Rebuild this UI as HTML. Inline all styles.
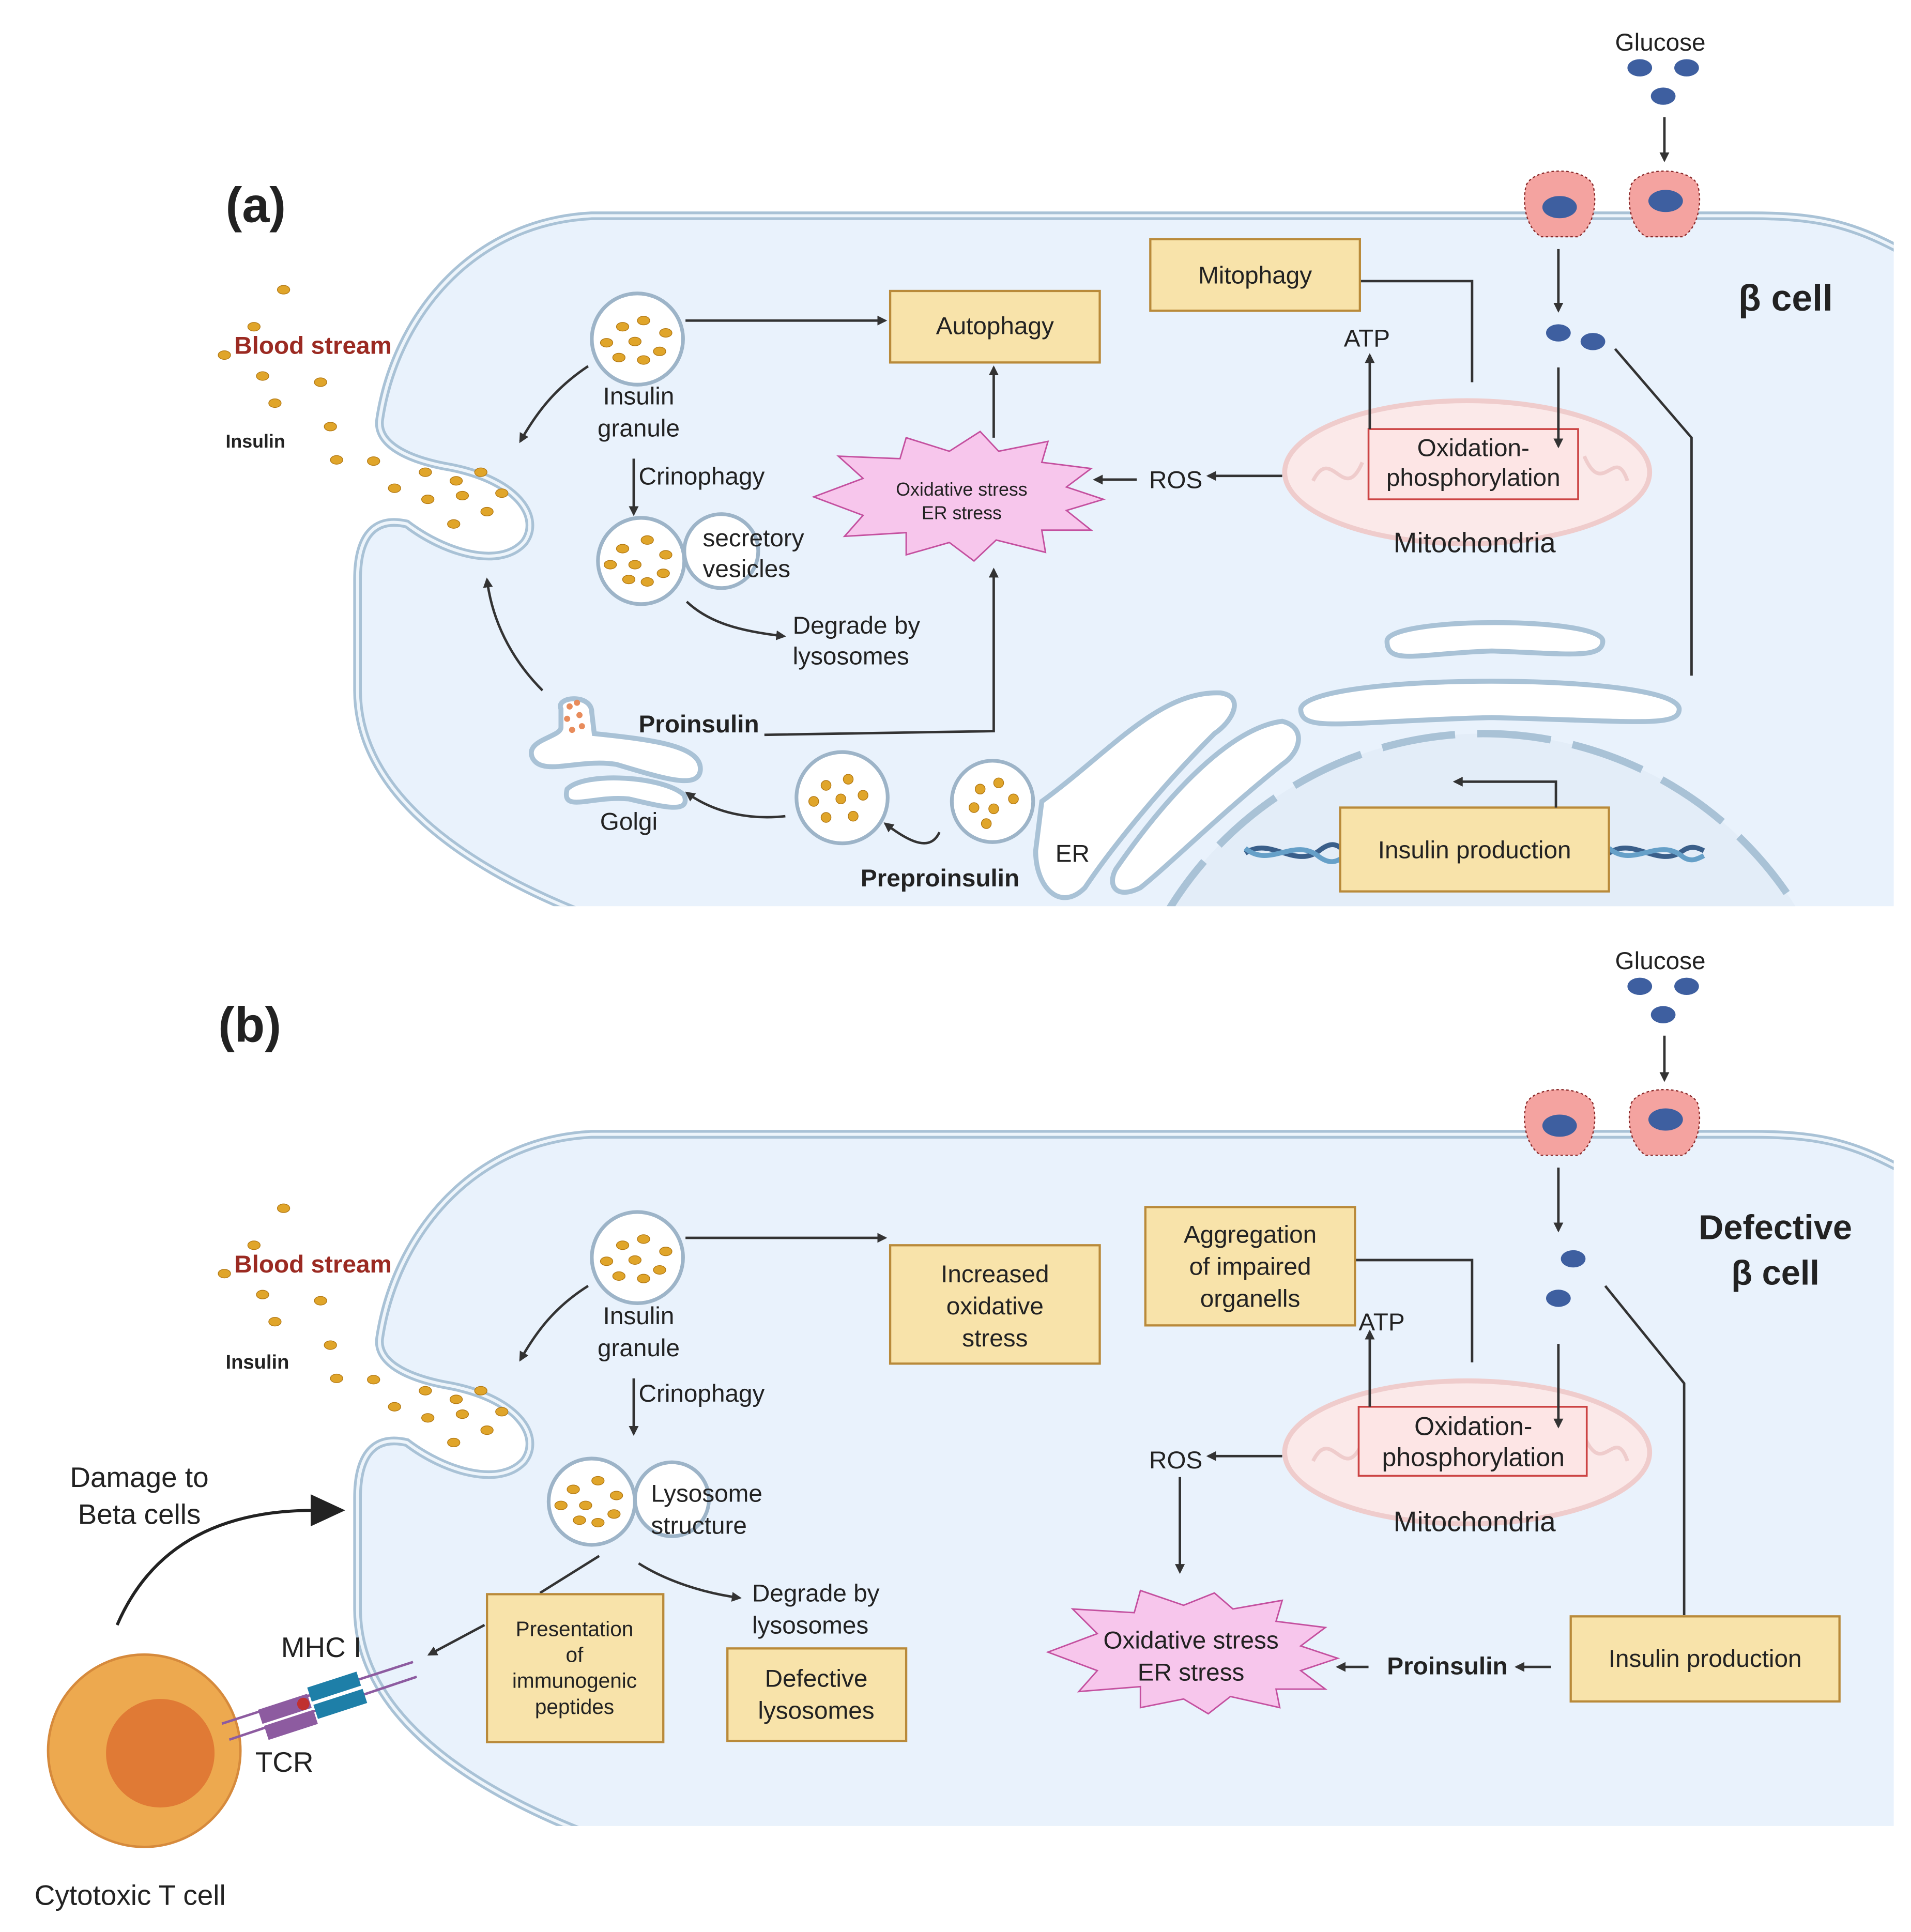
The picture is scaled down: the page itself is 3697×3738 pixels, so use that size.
<!DOCTYPE html>
<html><head><meta charset="utf-8"><style>
html,body{margin:0;padding:0;background:#fff}
svg{display:block}
text{font-family:"Liberation Sans",sans-serif;fill:#222}
</style></head><body>
<svg width="3697" height="3738" viewBox="0 0 1550 1567" preserveAspectRatio="none" xmlns="http://www.w3.org/2000/svg">
<defs>
<marker id="ar" viewBox="0 0 10 10" refX="8" refY="5" markerWidth="4" markerHeight="4" orient="auto"><path d="M0,0L10,5L0,10z" fill="#333"/></marker>
<clipPath id="ca"><rect x="0" y="0" width="1536" height="735"/></clipPath>
<clipPath id="cb"><rect x="0" y="745" width="1536" height="736"/></clipPath>
</defs>
<style>
.cell{fill:#e9f2fc;stroke:#a9c2d6;stroke-width:7}
.cell2{fill:none;stroke:#eef5fb;stroke-width:2.5}
.ln{fill:none;stroke:#333;stroke-width:2}
.box{fill:#f8e3aa;stroke:#b98a3a;stroke-width:1.8}
.ves{fill:#fff;stroke:#9db4c8;stroke-width:3}
.dot{fill:#e0a52a;stroke:#b47a15;stroke-width:.6}
.org{fill:#fff;stroke:#a9c2d6;stroke-width:4}
.t20{font-size:20px}
.b{font-weight:bold}
</style>

<!-- ================= PANEL A ================= -->
<g clip-path="url(#ca)">
<path class="cell" d="M1545,205 C1500,180 1470,175 1420,175 L480,175 C380,180 320,260 308,340 C305,360 330,372 360,378 C420,388 440,420 425,440 C405,462 360,448 330,425 C300,418 290,440 290,470 L290,560 C290,640 370,700 470,740 L1545,740 Z"/>
<path class="cell2" d="M1545,205 C1500,180 1470,175 1420,175 L480,175 C380,180 320,260 308,340 C305,360 330,372 360,378 C420,388 440,420 425,440 C405,462 360,448 330,425 C300,418 290,440 290,470 L290,560 C290,640 370,700 470,740"/>
<circle cx="1203" cy="894" r="299" fill="#e3edf8" stroke="#a9c2d6" stroke-width="6" stroke-dasharray="60 18"/>
<path class="org" d="M1125,520 C1125,500 1300,500 1300,520 C1300,535 1270,530 1210,528 C1150,530 1125,540 1125,520Z"/>
<path class="org" d="M1055,575 C1060,545 1360,545 1362,575 C1362,590 1330,585 1210,582 C1090,585 1055,595 1055,575Z"/>
<path class="org" d="M845,650 C900,610 940,560 990,562 C1010,565 1000,585 985,595 C940,640 900,690 880,720 C860,740 840,720 840,690 Z"/>
<path class="org" d="M905,705 C950,640 1000,590 1040,585 C1060,590 1055,610 1040,620 C990,660 950,700 925,720 C905,730 898,718 905,705Z"/>
<path d="M1010,692 C1030,678 1050,705 1070,690 C1080,682 1085,685 1090,690" stroke="#3a5f8a" stroke-width="4" fill="none"/>
<path d="M1010,688 C1030,705 1050,678 1070,695 C1080,702 1085,698 1090,695" stroke="#66a0c8" stroke-width="4" fill="none"/>
<path d="M1305,692 C1325,678 1345,705 1365,690 C1372,685 1378,688 1382,690" stroke="#3a5f8a" stroke-width="4" fill="none"/>
<path d="M1305,688 C1325,705 1345,678 1365,695 C1372,700 1378,696 1382,694" stroke="#66a0c8" stroke-width="4" fill="none"/>
</g>
<g>
<ellipse class="dot" cx="345" cy="383" rx="5" ry="3.5"/><ellipse class="dot" cx="370" cy="390" rx="5" ry="3.5"/><ellipse class="dot" cx="390" cy="383" rx="5" ry="3.5"/><ellipse class="dot" cx="320" cy="396" rx="5" ry="3.5"/><ellipse class="dot" cx="347" cy="405" rx="5" ry="3.5"/><ellipse class="dot" cx="375" cy="402" rx="5" ry="3.5"/><ellipse class="dot" cx="407" cy="400" rx="5" ry="3.5"/><ellipse class="dot" cx="395" cy="415" rx="5" ry="3.5"/><ellipse class="dot" cx="368" cy="425" rx="5" ry="3.5"/><ellipse class="dot" cx="303" cy="374" rx="5" ry="3.5"/><ellipse class="dot" cx="273" cy="373" rx="5" ry="3.5"/><ellipse class="dot" cx="268" cy="346" rx="5" ry="3.5"/><ellipse class="dot" cx="223" cy="327" rx="5" ry="3.5"/><ellipse class="dot" cx="213" cy="305" rx="5" ry="3.5"/><ellipse class="dot" cx="260" cy="310" rx="5" ry="3.5"/><ellipse class="dot" cx="182" cy="288" rx="5" ry="3.5"/><ellipse class="dot" cx="206" cy="265" rx="5" ry="3.5"/><ellipse class="dot" cx="230" cy="235" rx="5" ry="3.5"/>
</g>
<text x="190" y="287" class="t20 b" style="fill:#9b2a22">Blood stream</text>
<text x="183" y="363" style="font-size:15px;font-weight:bold">Insulin</text>
<text x="183" y="180" style="font-size:40px;font-weight:bold">(a)</text>
<text x="1410" y="252" style="font-size:30px;font-weight:bold">β cell</text>

<text x="1310" y="41" class="t20">Glucose</text>
<ellipse cx="1330" cy="55" rx="10" ry="7" fill="#3e5fa0"/><ellipse cx="1368" cy="55" rx="10" ry="7" fill="#3e5fa0"/><ellipse cx="1349" cy="78" rx="10" ry="7" fill="#3e5fa0"/>
<line class="ln" x1="1350" y1="95" x2="1350" y2="130" marker-end="url(#ar)"/>
<g>
<path d="M1238,150 C1245,135 1285,135 1292,150 C1296,165 1292,185 1280,192 L1250,192 C1238,185 1234,165 1238,150Z" fill="#f4a3a0" stroke="#8a2a2a" stroke-dasharray="2 2"/>
<ellipse cx="1265" cy="168" rx="14" ry="9" fill="#3e5fa0"/>
<path d="M1323,150 C1330,135 1370,135 1377,150 C1381,165 1377,185 1365,192 L1335,192 C1323,185 1319,165 1323,150Z" fill="#f4a3a0" stroke="#8a2a2a" stroke-dasharray="2 2"/>
<ellipse cx="1351" cy="163" rx="14" ry="9" fill="#3e5fa0"/>
</g>
<line class="ln" x1="1264" y1="202" x2="1264" y2="252" marker-end="url(#ar)"/>
<ellipse cx="1264" cy="270" rx="10" ry="7" fill="#3e5fa0"/><ellipse cx="1292" cy="277" rx="10" ry="7" fill="#3e5fa0"/>
<path class="ln" d="M1310,283 L1372,355 L1372,548"/>
<ellipse cx="1190" cy="383" rx="148" ry="58" fill="#fbe9e9" stroke="#efcccc" stroke-width="4"/>
<path d="M1065,390 C1080,360 1090,410 1105,375 M1285,370 C1300,405 1310,360 1320,390" stroke="#efcccc" stroke-width="3" fill="none"/>
<rect x="1110" y="348" width="170" height="57" fill="#fde5e5" stroke="#c44" stroke-width="1.5"/>
<line class="ln" x1="1264" y1="298" x2="1264" y2="362" marker-end="url(#ar)"/>
<text x="1195" y="370" class="t20" text-anchor="middle">Oxidation-</text>
<text x="1195" y="394" class="t20" text-anchor="middle">phosphorylation</text>
<text x="1196" y="448" style="font-size:23px" text-anchor="middle">Mitochondria</text>
<line class="ln" x1="1111" y1="348" x2="1111" y2="288" marker-end="url(#ar)"/>
<text x="1090" y="281" class="t20">ATP</text>
<path class="ln" d="M1103,228 L1194,228 L1194,310"/>
<rect class="box" x="933" y="194" width="170" height="58"/>
<text x="1018" y="230" class="t20" text-anchor="middle">Mitophagy</text>
<line class="ln" x1="1040" y1="386" x2="980" y2="386" marker-end="url(#ar)"/>
<text x="932" y="396" class="t20">ROS</text>
<line class="ln" x1="922" y1="389" x2="888" y2="389" marker-end="url(#ar)"/>
<polygon points="660,403 700,388 680,370 730,372 735,355 770,366 795,350 810,366 850,358 845,375 885,380 865,395 895,405 865,414 885,430 845,430 848,448 808,438 790,455 770,440 735,450 735,432 685,435 700,418" fill="#f7c6ec" stroke="#c4509f" stroke-width="1.2"/>
<text x="780" y="402" style="font-size:15px" text-anchor="middle">Oxidative stress</text>
<text x="780" y="421" style="font-size:15px" text-anchor="middle">ER stress</text>
<line class="ln" x1="806" y1="355" x2="806" y2="298" marker-end="url(#ar)"/>
<rect class="box" x="722" y="236" width="170" height="58"/>
<text x="807" y="271" class="t20" text-anchor="middle">Autophagy</text>
<circle class="ves" cx="517" cy="275" r="37"/>
<g><ellipse class="dot" cx="505" cy="265" rx="5" ry="3.5"/><ellipse class="dot" cx="522" cy="260" rx="5" ry="3.5"/><ellipse class="dot" cx="540" cy="270" rx="5" ry="3.5"/><ellipse class="dot" cx="492" cy="278" rx="5" ry="3.5"/><ellipse class="dot" cx="515" cy="277" rx="5" ry="3.5"/><ellipse class="dot" cx="535" cy="285" rx="5" ry="3.5"/><ellipse class="dot" cx="502" cy="290" rx="5" ry="3.5"/><ellipse class="dot" cx="522" cy="292" rx="5" ry="3.5"/></g>
<line class="ln" x1="556" y1="260" x2="718" y2="260" marker-end="url(#ar)"/>
<text x="518" y="328" class="t20" text-anchor="middle">Insulin</text>
<text x="518" y="354" class="t20" text-anchor="middle">granule</text>
<path class="ln" d="M477,297 C450,315 435,335 422,358" marker-end="url(#ar)"/>
<line class="ln" x1="514" y1="372" x2="514" y2="417" marker-end="url(#ar)"/>
<text x="518" y="393" class="t20">Crinophagy</text>
<circle class="ves" cx="520" cy="455" r="35"/>
<circle class="ves" cx="585" cy="447" r="30"/>
<g><ellipse class="dot" cx="505" cy="445" rx="5" ry="3.5"/><ellipse class="dot" cx="525" cy="438" rx="5" ry="3.5"/><ellipse class="dot" cx="540" cy="450" rx="5" ry="3.5"/><ellipse class="dot" cx="495" cy="458" rx="5" ry="3.5"/><ellipse class="dot" cx="515" cy="458" rx="5" ry="3.5"/><ellipse class="dot" cx="538" cy="465" rx="5" ry="3.5"/><ellipse class="dot" cx="510" cy="470" rx="5" ry="3.5"/><ellipse class="dot" cx="525" cy="472" rx="5" ry="3.5"/></g>
<text x="570" y="443" class="t20">secretory</text>
<text x="570" y="468" class="t20">vesicles</text>
<path class="ln" d="M557,488 C575,505 600,512 636,516" marker-end="url(#ar)"/>
<text x="643" y="514" class="t20">Degrade by</text>
<text x="643" y="539" class="t20">lysosomes</text>
<path class="org" d="M455,575 C450,565 480,562 480,578 L482,595 C530,600 570,605 568,625 C566,640 540,632 500,620 C470,615 440,630 432,615 C425,600 455,598 455,590Z"/>
<path class="org" d="M460,640 C475,625 540,630 555,645 C560,660 540,655 510,648 C480,645 455,660 460,640Z"/>
<g fill="#e88c5c"><circle cx="462" cy="573" r="2.5"/><circle cx="470" cy="580" r="2.5"/><circle cx="460" cy="583" r="2.5"/><circle cx="472" cy="589" r="2.5"/><circle cx="464" cy="592" r="2.5"/><circle cx="468" cy="570" r="2.5"/></g>
<text x="510" y="673" class="t20" text-anchor="middle">Golgi</text>
<text x="518" y="594" class="t20 b">Proinsulin</text>
<path class="ln" d="M620,596 L806,593 L806,462" marker-end="url(#ar)"/>
<path class="ln" d="M440,560 C420,540 400,510 395,470" marker-end="url(#ar)"/>
<circle class="ves" cx="683" cy="647" r="37"/>
<g><ellipse class="dot" cx="670" cy="637" rx="4" ry="4"/><ellipse class="dot" cx="688" cy="632" rx="4" ry="4"/><ellipse class="dot" cx="700" cy="645" rx="4" ry="4"/><ellipse class="dot" cx="660" cy="650" rx="4" ry="4"/><ellipse class="dot" cx="682" cy="648" rx="4" ry="4"/><ellipse class="dot" cx="670" cy="663" rx="4" ry="4"/><ellipse class="dot" cx="692" cy="662" rx="4" ry="4"/></g>
<path class="ln" d="M637,662 C610,665 580,660 557,643" marker-end="url(#ar)"/>
<circle class="ves" cx="805" cy="650" r="33"/>
<g><ellipse class="dot" cx="795" cy="640" rx="4" ry="4"/><ellipse class="dot" cx="810" cy="635" rx="4" ry="4"/><ellipse class="dot" cx="822" cy="648" rx="4" ry="4"/><ellipse class="dot" cx="790" cy="655" rx="4" ry="4"/><ellipse class="dot" cx="806" cy="656" rx="4" ry="4"/><ellipse class="dot" cx="800" cy="668" rx="4" ry="4"/></g>
<path class="ln" d="M762,675 C755,690 740,685 718,668" marker-end="url(#ar)"/>
<text x="698" y="719" class="t20 b">Preproinsulin</text>
<text x="856" y="699" class="t20">ER</text>
<rect class="box" x="1087" y="655" width="218" height="68"/>
<text x="1196" y="696" class="t20" text-anchor="middle">Insulin production</text>
<path class="ln" d="M1262,655 L1262,634 L1180,634" marker-end="url(#ar)"/>

<!-- ================= PANEL B ================= -->
<g clip-path="url(#cb)">
<path class="cell" transform="translate(0,745)" d="M1545,205 C1500,180 1470,175 1420,175 L480,175 C380,180 320,260 308,340 C305,360 330,372 360,378 C420,388 440,420 425,440 C405,462 360,448 330,425 C300,418 290,440 290,470 L290,560 C290,640 370,700 470,740 L1545,740 Z"/>
<path class="cell2" transform="translate(0,745)" d="M1545,205 C1500,180 1470,175 1420,175 L480,175 C380,180 320,260 308,340 C305,360 330,372 360,378 C420,388 440,420 425,440 C405,462 360,448 330,425 C300,418 290,440 290,470 L290,560 C290,640 370,700 470,740"/>
</g>
<g transform="translate(0,745)">
<ellipse class="dot" cx="345" cy="383" rx="5" ry="3.5"/><ellipse class="dot" cx="370" cy="390" rx="5" ry="3.5"/><ellipse class="dot" cx="390" cy="383" rx="5" ry="3.5"/><ellipse class="dot" cx="320" cy="396" rx="5" ry="3.5"/><ellipse class="dot" cx="347" cy="405" rx="5" ry="3.5"/><ellipse class="dot" cx="375" cy="402" rx="5" ry="3.5"/><ellipse class="dot" cx="407" cy="400" rx="5" ry="3.5"/><ellipse class="dot" cx="395" cy="415" rx="5" ry="3.5"/><ellipse class="dot" cx="368" cy="425" rx="5" ry="3.5"/><ellipse class="dot" cx="303" cy="374" rx="5" ry="3.5"/><ellipse class="dot" cx="273" cy="373" rx="5" ry="3.5"/><ellipse class="dot" cx="268" cy="346" rx="5" ry="3.5"/><ellipse class="dot" cx="223" cy="327" rx="5" ry="3.5"/><ellipse class="dot" cx="213" cy="305" rx="5" ry="3.5"/><ellipse class="dot" cx="260" cy="310" rx="5" ry="3.5"/><ellipse class="dot" cx="182" cy="288" rx="5" ry="3.5"/><ellipse class="dot" cx="206" cy="265" rx="5" ry="3.5"/><ellipse class="dot" cx="230" cy="235" rx="5" ry="3.5"/>
</g>
<text x="190" y="1032" class="t20 b" style="fill:#9b2a22">Blood stream</text>
<text x="183" y="1110" style="font-size:16px;font-weight:bold">Insulin</text>
<text x="177" y="845" style="font-size:40px;font-weight:bold">(b)</text>
<text x="1440" y="1005" style="font-size:28px;font-weight:bold" text-anchor="middle">Defective</text>
<text x="1440" y="1042" style="font-size:28px;font-weight:bold" text-anchor="middle">β cell</text>
<text x="1310" y="786" class="t20">Glucose</text>
<ellipse cx="1330" cy="800" rx="10" ry="7" fill="#3e5fa0"/><ellipse cx="1368" cy="800" rx="10" ry="7" fill="#3e5fa0"/><ellipse cx="1349" cy="823" rx="10" ry="7" fill="#3e5fa0"/>
<line class="ln" x1="1350" y1="840" x2="1350" y2="876" marker-end="url(#ar)"/>
<g transform="translate(0,745)">
<path d="M1238,150 C1245,135 1285,135 1292,150 C1296,165 1292,185 1280,192 L1250,192 C1238,185 1234,165 1238,150Z" fill="#f4a3a0" stroke="#8a2a2a" stroke-dasharray="2 2"/>
<ellipse cx="1265" cy="168" rx="14" ry="9" fill="#3e5fa0"/>
<path d="M1323,150 C1330,135 1370,135 1377,150 C1381,165 1377,185 1365,192 L1335,192 C1323,185 1319,165 1323,150Z" fill="#f4a3a0" stroke="#8a2a2a" stroke-dasharray="2 2"/>
<ellipse cx="1351" cy="163" rx="14" ry="9" fill="#3e5fa0"/>
</g>
<line class="ln" x1="1264" y1="947" x2="1264" y2="998" marker-end="url(#ar)"/>
<ellipse cx="1276" cy="1021" rx="10" ry="7" fill="#3e5fa0"/><ellipse cx="1264" cy="1053" rx="10" ry="7" fill="#3e5fa0"/>
<path class="ln" d="M1302,1043 L1366,1122 L1366,1310"/>
<ellipse cx="1190" cy="1178" rx="148" ry="58" fill="#fbe9e9" stroke="#efcccc" stroke-width="4"/>
<path d="M1065,1185 C1080,1155 1090,1205 1105,1170 M1285,1165 C1300,1200 1310,1155 1320,1185" stroke="#efcccc" stroke-width="3" fill="none"/>
<rect x="1102" y="1141" width="185" height="56" fill="#fde5e5" stroke="#c44" stroke-width="1.5"/>
<line class="ln" x1="1264" y1="1090" x2="1264" y2="1157" marker-end="url(#ar)"/>
<text x="1195" y="1164" style="font-size:21px" text-anchor="middle">Oxidation-</text>
<text x="1195" y="1189" style="font-size:21px" text-anchor="middle">phosphorylation</text>
<text x="1196" y="1242" style="font-size:23px" text-anchor="middle">Mitochondria</text>
<line class="ln" x1="1111" y1="1141" x2="1111" y2="1080" marker-end="url(#ar)"/>
<text x="1102" y="1079" class="t20">ATP</text>
<path class="ln" d="M1099,1022 L1194,1022 L1194,1105"/>
<rect class="box" x="929" y="979" width="170" height="96"/>
<text x="1014" y="1008" class="t20" text-anchor="middle">Aggregation</text>
<text x="1014" y="1034" class="t20" text-anchor="middle">of  impaired</text>
<text x="1014" y="1060" class="t20" text-anchor="middle">organells</text>
<line class="ln" x1="1040" y1="1181" x2="980" y2="1181" marker-end="url(#ar)"/>
<text x="932" y="1191" class="t20">ROS</text>
<line class="ln" x1="957" y1="1198" x2="957" y2="1275" marker-end="url(#ar)"/>
<polygon points="850,1340 890,1325 870,1305 920,1308 925,1290 960,1302 985,1292 1000,1305 1040,1298 1035,1315 1075,1320 1055,1335 1085,1345 1055,1355 1075,1370 1035,1370 1038,1385 998,1376 980,1390 960,1378 925,1385 925,1368 875,1372 890,1355" fill="#f7c6ec" stroke="#c4509f" stroke-width="1.2"/>
<text x="966" y="1337" class="t20" text-anchor="middle">Oxidative stress</text>
<text x="966" y="1363" class="t20" text-anchor="middle">ER stress</text>
<line class="ln" x1="1110" y1="1352" x2="1085" y2="1352" marker-end="url(#ar)"/>
<text x="1125" y="1358" class="t20 b">Proinsulin</text>
<line class="ln" x1="1258" y1="1352" x2="1230" y2="1352" marker-end="url(#ar)"/>
<rect class="box" x="1274" y="1311" width="218" height="69"/>
<text x="1383" y="1352" class="t20" text-anchor="middle">Insulin production</text>
<rect class="box" x="722" y="1010" width="170" height="96"/>
<text x="807" y="1040" class="t20" text-anchor="middle">Increased</text>
<text x="807" y="1066" class="t20" text-anchor="middle">oxidative</text>
<text x="807" y="1092" class="t20" text-anchor="middle">stress</text>
<circle class="ves" cx="517" cy="1020" r="37"/>
<g transform="translate(0,745)"><ellipse class="dot" cx="505" cy="265" rx="5" ry="3.5"/><ellipse class="dot" cx="522" cy="260" rx="5" ry="3.5"/><ellipse class="dot" cx="540" cy="270" rx="5" ry="3.5"/><ellipse class="dot" cx="492" cy="278" rx="5" ry="3.5"/><ellipse class="dot" cx="515" cy="277" rx="5" ry="3.5"/><ellipse class="dot" cx="535" cy="285" rx="5" ry="3.5"/><ellipse class="dot" cx="502" cy="290" rx="5" ry="3.5"/><ellipse class="dot" cx="522" cy="292" rx="5" ry="3.5"/></g>
<line class="ln" x1="556" y1="1004" x2="718" y2="1004" marker-end="url(#ar)"/>
<text x="518" y="1074" class="t20" text-anchor="middle">Insulin</text>
<text x="518" y="1100" class="t20" text-anchor="middle">granule</text>
<path class="ln" d="M477,1043 C450,1060 435,1080 422,1103" marker-end="url(#ar)"/>
<line class="ln" x1="514" y1="1118" x2="514" y2="1163" marker-end="url(#ar)"/>
<text x="518" y="1137" class="t20">Crinophagy</text>
<circle class="ves" cx="480" cy="1218" r="35"/>
<circle class="ves" cx="545" cy="1216" r="30"/>
<g transform="translate(-40,763)"><ellipse class="dot" cx="505" cy="445" rx="5" ry="3.5"/><ellipse class="dot" cx="525" cy="438" rx="5" ry="3.5"/><ellipse class="dot" cx="540" cy="450" rx="5" ry="3.5"/><ellipse class="dot" cx="495" cy="458" rx="5" ry="3.5"/><ellipse class="dot" cx="515" cy="458" rx="5" ry="3.5"/><ellipse class="dot" cx="538" cy="465" rx="5" ry="3.5"/><ellipse class="dot" cx="510" cy="470" rx="5" ry="3.5"/><ellipse class="dot" cx="525" cy="472" rx="5" ry="3.5"/></g>
<text x="528" y="1218" class="t20">Lysosome</text>
<text x="528" y="1244" class="t20">structure</text>
<path class="ln" d="M518,1268 C540,1282 570,1292 600,1296" marker-end="url(#ar)"/>
<text x="610" y="1299" class="t20">Degrade by</text>
<text x="610" y="1325" class="t20">lysosomes</text>
<rect class="box" x="590" y="1337" width="145" height="75"/>
<text x="662" y="1368" class="t20" text-anchor="middle">Defective</text>
<text x="662" y="1394" class="t20" text-anchor="middle">lysosomes</text>
<path class="ln" d="M486,1262 L438,1292"/>
<rect class="box" x="395" y="1293" width="143" height="120"/>
<text x="466" y="1327" style="font-size:17px" text-anchor="middle">Presentation</text>
<text x="466" y="1348" style="font-size:17px" text-anchor="middle">of</text>
<text x="466" y="1369" style="font-size:17px" text-anchor="middle">immunogenic</text>
<text x="466" y="1390" style="font-size:17px" text-anchor="middle">peptides</text>
<line class="ln" x1="393" y1="1318" x2="348" y2="1342" marker-end="url(#ar)"/>
<circle cx="117" cy="1420" r="78" fill="#eda94f" stroke="#d68a3c" stroke-width="2"/>
<circle cx="130" cy="1422" r="44" fill="#e07a35"/>
<g>
<line x1="180" y1="1398" x2="335" y2="1348" stroke="#8d5ba0" stroke-width="2"/>
<line x1="186" y1="1411" x2="338" y2="1360" stroke="#8d5ba0" stroke-width="2"/>
<rect x="210" y="1380" width="42" height="12" fill="#8d5ba0" transform="rotate(-18 231 1386)"/>
<rect x="215" y="1393" width="42" height="12" fill="#8d5ba0" transform="rotate(-18 236 1399)"/>
<rect x="250" y="1362" width="42" height="12" fill="#1e7fa8" transform="rotate(-18 271 1368)"/>
<rect x="255" y="1376" width="42" height="12" fill="#1e7fa8" transform="rotate(-18 276 1382)"/>
<circle cx="246" cy="1382" r="5" fill="#c03030"/>
</g>
<text x="228" y="1344" style="font-size:23px">MHC I</text>
<text x="207" y="1437" style="font-size:23px">TCR</text>
<text x="28" y="1545" style="font-size:23px">Cytotoxic T cell</text>
<text x="113" y="1206" style="font-size:23px" text-anchor="middle">Damage to</text>
<text x="113" y="1236" style="font-size:23px" text-anchor="middle">Beta cells</text>
<path d="M95,1318 C120,1260 170,1225 255,1225" stroke="#222" stroke-width="2.5" fill="none"/>
<polygon points="252,1212 280,1225 252,1238" fill="#222"/>
</svg>
</body></html>
